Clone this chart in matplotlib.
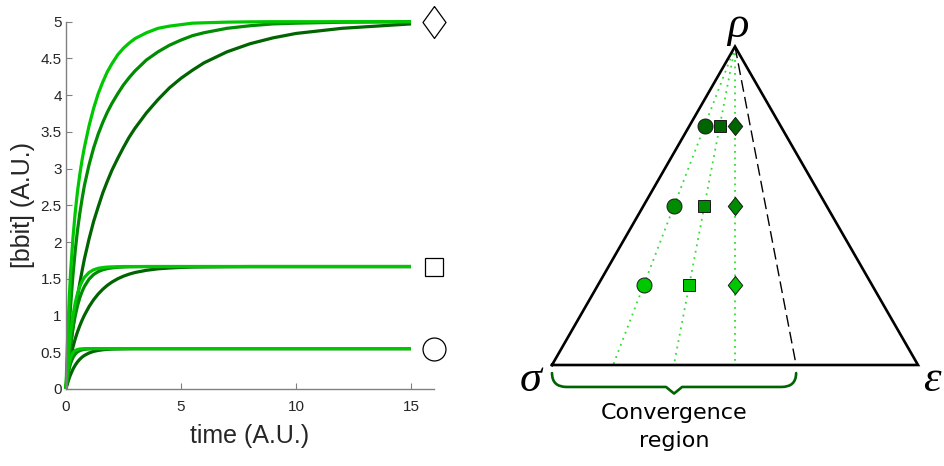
import matplotlib
matplotlib.use("Agg")
import matplotlib.pyplot as plt
from matplotlib.path import Path
from matplotlib.patches import PathPatch

# Sampled time axis shared by all curves
time = [0, 0.05, 0.1, 0.15, 0.2, 0.3, 0.4, 0.5, 0.6, 0.7, 0.8, 1.0, 1.2, 1.4, 1.6, 1.8, 2.0,
        2.25, 2.5, 2.75, 3.0, 3.5, 4.0, 4.5, 5.0, 5.5, 6.0, 7.0, 8.0, 9.0, 10.0, 12.0, 15.0]

# Diamond family (plateau 5)
diamond_slow = [0, 0.16, 0.31, 0.45, 0.58, 0.83, 1.055, 1.26, 1.44, 1.61, 1.77, 2.04, 2.28,
                2.48, 2.67, 2.83, 2.98, 3.14, 3.29, 3.43, 3.55, 3.76, 3.94, 4.10, 4.23,
                4.34, 4.44, 4.59, 4.70, 4.78, 4.84, 4.91, 4.97]
diamond_mid = [0, 0.33, 0.62, 0.89, 1.13, 1.54, 1.88, 2.16, 2.39, 2.59, 2.77, 3.05, 3.28,
               3.47, 3.63, 3.77, 3.89, 4.02, 4.14, 4.24, 4.33, 4.48, 4.59, 4.68, 4.75,
               4.81, 4.85, 4.91, 4.945, 4.97, 4.98, 4.993, 5.0]
diamond_fast = [0, 0.52, 0.94, 1.29, 1.59, 2.05, 2.40, 2.69, 2.92, 3.12, 3.29, 3.58, 3.82,
                4.02, 4.18, 4.32, 4.43, 4.55, 4.64, 4.71, 4.77, 4.85, 4.91, 4.94, 4.96,
                4.98, 4.985, 4.994, 4.998, 5.0, 5.0, 5.0, 5.0]

# Square family (plateau 1.667)
square_slow = [0, 0.137, 0.25, 0.347, 0.43, 0.568, 0.682, 0.778, 0.862, 0.937, 1.004, 1.12,
               1.215, 1.293, 1.358, 1.412, 1.456, 1.501, 1.536, 1.564, 1.586, 1.616, 1.636,
               1.647, 1.655, 1.66, 1.662, 1.665, 1.667, 1.667, 1.667, 1.667, 1.667]
square_mid = [0, 0.179, 0.339, 0.482, 0.609, 0.824, 0.995, 1.132, 1.241, 1.327, 1.396, 1.495,
              1.558, 1.598, 1.623, 1.639, 1.649, 1.657, 1.661, 1.664, 1.665, 1.667, 1.667,
              1.667, 1.667, 1.667, 1.667, 1.667, 1.667, 1.667, 1.667, 1.667, 1.667]
square_fast = [0, 0.234, 0.436, 0.609, 0.758, 0.995, 1.171, 1.301, 1.396, 1.467, 1.519, 1.586,
               1.623, 1.643, 1.654, 1.66, 1.663, 1.665, 1.667, 1.667, 1.667, 1.667, 1.667,
               1.667, 1.667, 1.667, 1.667, 1.667, 1.667, 1.667, 1.667, 1.667, 1.667]

# Circle family (plateau 0.55)
circle_slow = [0, 0.058, 0.110, 0.156, 0.197, 0.268, 0.324, 0.369, 0.405, 0.434, 0.457, 0.490,
               0.512, 0.525, 0.534, 0.540, 0.544, 0.546, 0.548, 0.549, 0.55, 0.55, 0.55,
               0.55, 0.55, 0.55, 0.55, 0.55, 0.55, 0.55, 0.55, 0.55, 0.55]
circle_mid = [0, 0.122, 0.216, 0.29, 0.348, 0.427, 0.476, 0.505, 0.523, 0.533, 0.54, 0.546,
              0.549, 0.55, 0.55, 0.55, 0.55, 0.55, 0.55, 0.55, 0.55, 0.55, 0.55,
              0.55, 0.55, 0.55, 0.55, 0.55, 0.55, 0.55, 0.55, 0.55, 0.55]
circle_fast = [0, 0.176, 0.295, 0.376, 0.432, 0.495, 0.525, 0.538, 0.545, 0.547, 0.549, 0.55,
               0.55, 0.55, 0.55, 0.55, 0.55, 0.55, 0.55, 0.55, 0.55, 0.55, 0.55,
               0.55, 0.55, 0.55, 0.55, 0.55, 0.55, 0.55, 0.55, 0.55, 0.55]

plateaus = [0.55, 1.667, 5.0]          # circle, square, diamond
legend_x = 16

# Triangle: sigma, epsilon, rho
vertex_x = [0.0, 1.0, 0.5]
vertex_y = [0.0, 0.0, 0.87]
base_hits = [0.167, 0.333, 0.5]        # where each dotted ray meets the base
row_fracs = [0.25, 0.5, 0.75]          # position of the markers along the rays
convergence_edge = 0.667

colors = ["#006400", "#008c00", "#00c800"]   # slow, mid, fast
dot_color = "#33dd33"
axis_grey = "#808080"
text_grey = "#262626"


def diamond(ratio):
    return [(0, 1), (ratio, 0), (0, -1), (-ratio, 0), (0, 1)]


def plot_curves(ax):
    families = [
        [circle_slow, square_slow, diamond_slow],
        [circle_mid, square_mid, diamond_mid],
        [circle_fast, square_fast, diamond_fast],
    ]
    for color, family in zip(colors, families):
        for values in family:
            ax.plot(time, values, color=color, lw=2.3, clip_on=False,
                    solid_capstyle="butt", solid_joinstyle="round")

    shapes = ["o", "s", diamond(0.72)]
    sizes = [16.5, 13, 23]
    for level, shape, ms in zip(plateaus, shapes, sizes):
        ax.plot(legend_x, level, marker=shape, ms=ms, mfc="white", mec="black",
                mew=0.9, clip_on=False, zorder=5)

    ax.set_xlim(0, 16)
    ax.set_ylim(0, 5)
    ax.set_xticks([0, 5, 10, 15])
    ax.set_yticks([0, 0.5, 1, 1.5, 2, 2.5, 3, 3.5, 4, 4.5, 5])
    ax.set_yticklabels(["0", "0.5", "1", "1.5", "2", "2.5", "3", "3.5", "4", "4.5", "5"])
    for side in ["top", "right"]:
        ax.spines[side].set_visible(False)
    for side in ["left", "bottom"]:
        ax.spines[side].set_color(axis_grey)
        ax.spines[side].set_linewidth(1.0)
    ax.tick_params(direction="in", length=4, width=0.8, color=axis_grey,
                   labelcolor=text_grey, labelsize=11)
    ax.tick_params(axis="x", pad=8)
    ax.tick_params(axis="y", pad=3)
    ax.set_xlabel("time (A.U.)", fontsize=18, color=text_grey, labelpad=7)
    ax.set_ylabel("[bbit] (A.U.)", fontsize=18, color=text_grey, labelpad=4)


def brace(x0, x1, y_top, y_mid, y_tip, curl):
    xm = (x0 + x1) / 2
    verts = [
        (x0, y_top), (x0, y_mid), (x0 + curl, y_mid),
        (xm - 0.022, y_mid), (xm, y_tip), (xm + 0.022, y_mid),
        (x1 - curl, y_mid), (x1, y_mid), (x1, y_top),
    ]
    codes = [Path.MOVETO, Path.CURVE3, Path.CURVE3,
             Path.LINETO, Path.LINETO, Path.LINETO,
             Path.LINETO, Path.CURVE3, Path.CURVE3]
    return Path(verts, codes)


def plot_triangle(ax):
    apex_x, apex_y = vertex_x[2], vertex_y[2]

    for hit in base_hits:
        ax.plot([apex_x, hit], [apex_y, 0], color=dot_color, lw=1.3,
                linestyle=(0, (1, 2.6)), zorder=1)
    ax.plot([apex_x, convergence_edge], [apex_y, 0], color="black", lw=1.0,
            linestyle=(0, (8.5, 3.8)), zorder=1)

    ax.plot(vertex_x + [vertex_x[0]], vertex_y + [vertex_y[0]], color="black",
            lw=1.9, solid_joinstyle="miter", zorder=2)

    shapes = ["o", "s", diamond(0.8)]
    sizes = [10.8, 8.4, 13]
    for frac, color in zip(row_fracs, colors):
        for hit, shape, ms in zip(base_hits, shapes, sizes):
            px = apex_x + frac * (hit - apex_x)
            py = apex_y + frac * (0 - apex_y)
            ax.plot(px, py, marker=shape, ms=ms, mfc=color, mec="#1a1a1a",
                    mew=0.7, zorder=3)

    greek = dict(family="Liberation Serif", style="italic", fontsize=32,
                 ha="center", va="center")
    ax.text(-0.057, -0.04, "σ", **greek)
    ax.text(1.038, -0.04, "ε", **greek)
    ax.text(apex_x + 0.008, apex_y + 0.055, "ρ", **greek)

    ax.add_patch(PathPatch(brace(0.0, convergence_edge, -0.022, -0.060, -0.078, 0.04),
                           fill=False, edgecolor=colors[0], lw=1.9,
                           capstyle="round", joinstyle="round"))
    ax.text(convergence_edge / 2, -0.103, "Convergence\nregion", fontsize=16,
            family="DejaVu Sans", ha="center", va="top", linespacing=1.5)

    ax.set_xlim(-72 / 366, 392 / 366)
    ax.set_ylim(-101 / 366, 365 / 366)
    ax.axis("off")


def main():
    fig = plt.figure(figsize=(9.44, 4.66), dpi=100)
    plt.rcParams["font.family"] = ["Liberation Sans", "DejaVu Sans"]

    ax_left = fig.add_axes([66 / 944, 77 / 466, 368 / 944, 367.3 / 466])
    plot_curves(ax_left)

    ax_right = fig.add_axes([480 / 944, 0, 464 / 944, 1])
    plot_triangle(ax_right)

    fig.savefig("out.png", dpi=100, facecolor="white")


if __name__ == "__main__":
    main()
